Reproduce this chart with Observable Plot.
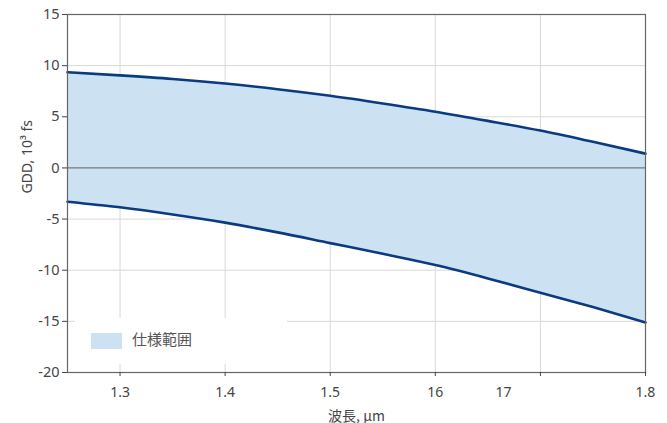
<!DOCTYPE html>
<html>
<head>
<meta charset="utf-8">
<script src="https://cdn.jsdelivr.net/npm/d3@7"></script>
<script src="https://cdn.jsdelivr.net/npm/@observablehq/plot@0.6"></script>
<style>
  body { margin: 0; background: #fff; }
  #wrap { position: relative; width: 667px; height: 423px; font-family: "Noto Sans", "Noto Sans CJK JP", sans-serif; }
  #legend { position: absolute; left: 75px; top: 318px; width: 212px; height: 46px; background: #fff; }
  #legend .sw { position: absolute; left: 16px; top: 15px; width: 31px; height: 16px; background: #cce2f3; }
  #legend .lb { position: absolute; left: 57px; top: 11px; font-size: 15px; color: #555; font-family: "Noto Sans CJK JP", sans-serif; line-height: 20px; }
</style>
</head>
<body>
<div id="wrap"><div id="legend"><div class="sw"></div><div class="lb">仕様範囲</div></div></div>
<script>
// wavelength (µm)
const wavelength = [1.25, 1.30, 1.35, 1.40, 1.45, 1.50, 1.55, 1.60, 1.65, 1.70, 1.75, 1.80];
// upper and lower GDD limits (10^3 fs)
const upperGDD = [9.35, 9.05, 8.7, 8.25, 7.7, 7.05, 6.3, 5.5, 4.6, 3.65, 2.55, 1.4];
const lowerGDD = [-3.3, -3.85, -4.55, -5.35, -6.3, -7.35, -8.4, -9.5, -10.8, -12.2, -13.6, -15.1];

const xTicks = [1.3, 1.4, 1.5, 1.6, 1.7, 1.8];
const xLabelPos = [1.3, 1.4, 1.5, 1.6, 1.665, 1.8];
const xLabels = ["1.3", "1.4", "1.5", "16", "17", "1.8"];
const yTicks = [-20, -15, -10, -5, 0, 5, 10, 15];
const legendLabel = "仕様範囲";

const rows = wavelength.map((w, i) => ({w, hi: upperGDD[i], lo: lowerGDD[i]}));

const chart = Plot.plot({
  width: 667,
  height: 423,
  marginLeft: 67,
  marginRight: 22,
  marginTop: 14,
  marginBottom: 51,
  style: {fontFamily: "'Noto Sans', sans-serif", fontSize: "14px", color: "#444", background: "#fff"},
  x: {domain: [1.25, 1.8]},
  y: {domain: [-20, 15]},
  marks: [
    Plot.gridX(xTicks.slice(0, -1), {stroke: "#d8d8d8", strokeOpacity: 1}),
    Plot.gridY(yTicks, {stroke: "#d8d8d8", strokeOpacity: 1}),
    Plot.areaY(rows, {x: "w", y1: "lo", y2: "hi", fill: "#cce2f3", curve: "monotone-x"}),
    Plot.ruleY([0], {stroke: "#777", strokeWidth: 1.2}),
    Plot.line(rows, {x: "w", y: "hi", stroke: "#0a3a80", strokeWidth: 2.6, curve: "monotone-x"}),
    Plot.line(rows, {x: "w", y: "lo", stroke: "#0a3a80", strokeWidth: 2.6, curve: "monotone-x"}),
    Plot.frame({stroke: "#666", strokeWidth: 1.2}),
    Plot.axisY(yTicks, {tickSize: 5, tickPadding: 3, fontSize: 14.5, fill: "#444", stroke: "#444", label: null, tickFormat: d => String(d)}),
    Plot.axisX(xTicks, {tickSize: 4, tickFormat: () => "", stroke: "#444", label: null}),
    Plot.text(xLabels, {x: (d, i) => xLabelPos[i], y: -20, text: d => d, dy: 15, lineAnchor: "top", fontSize: 14, fill: "#444"}),
    Plot.text(["波長, μm"], {frameAnchor: "bottom", dy: 48, lineAnchor: "bottom", fontSize: 14, fill: "#444", fontFamily: "'Noto Sans CJK JP', sans-serif"}),
    Plot.text(["GDD, 10³ fs"], {frameAnchor: "left", dx: -40, rotate: -90, fontSize: 14, fill: "#444"})
  ]
});
document.getElementById("wrap").prepend(chart);
</script>
</body>
</html>
